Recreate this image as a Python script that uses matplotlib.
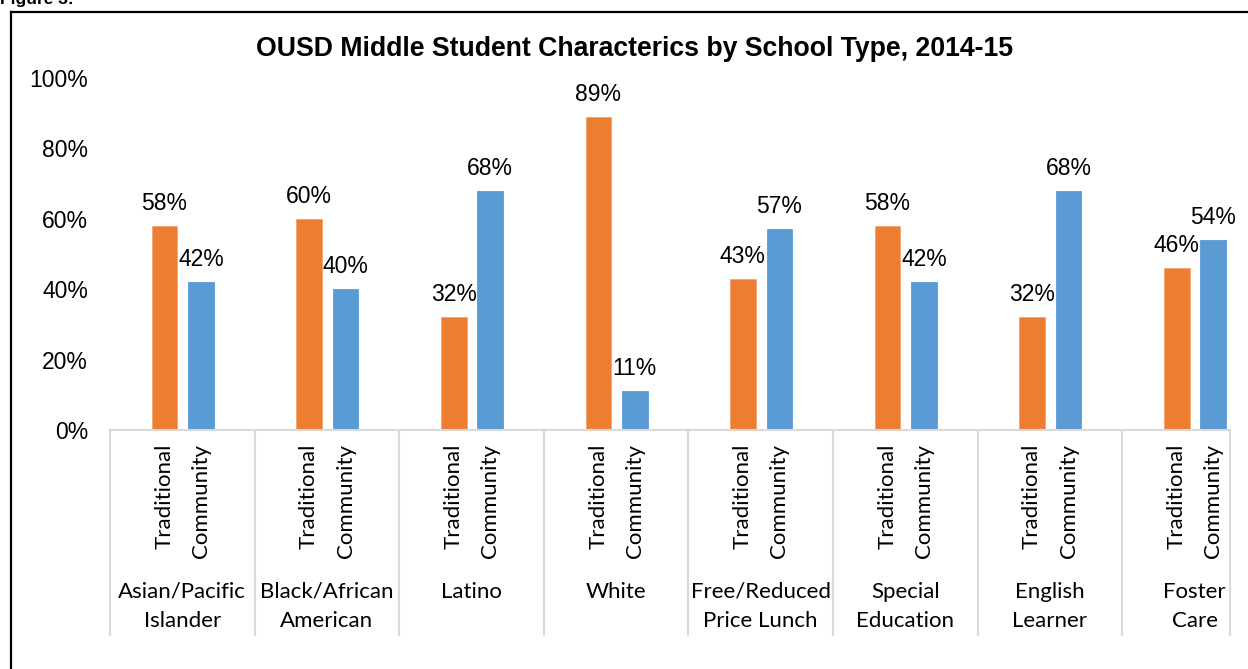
import matplotlib
matplotlib.use('Agg')
import matplotlib.pyplot as plt
import matplotlib.transforms as mtransforms
import numpy as np

# Share of middle school students by school type, 2014-15
groups = ['Asian/Pacific\nIslander', 'Black/African\nAmerican', 'Latino', 'White',
          'Free/Reduced\nPrice Lunch', 'Special\nEducation', 'English\nLearner', 'Foster\nCare']
school_types = ['Traditional', 'Community']
traditional = [58, 60, 32, 89, 43, 58, 32, 46]
community = [42, 40, 68, 11, 57, 42, 68, 54]
yticks = [0, 20, 40, 60, 80, 100]

ORANGE = '#ED7D31'
BLUE = '#5B9BD5'
GRID = '#D9D9D9'
W, H = 1248, 669

fig = plt.figure(figsize=(W / 100, H / 100), dpi=100)
ax = fig.add_axes([110 / W, 239 / H, 1120 / W, 352 / H])

# frame around the figure (top and left edges only are in view)
fig.add_artist(plt.Line2D([11 / W, 1], [1 - 12 / H, 1 - 12 / H], transform=fig.transFigure,
                          color='black', lw=1.6))
fig.add_artist(plt.Line2D([11 / W, 11 / W], [0, 1 - 12 / H], transform=fig.transFigure,
                          color='black', lw=1.6))
fig.text(0, 1 - 4 / H, 'Figure 3:', fontsize=12.5, fontweight='bold', family='Liberation Sans',
         ha='left', va='baseline')

x = np.arange(len(groups))
off_t, off_c, bw = 0.377, 0.629, 0.177
ax.bar(x + off_t, traditional, bw, color=ORANGE, edgecolor='#F4A46E', lw=0.6)
ax.bar(x + off_c, community, bw, color=BLUE, edgecolor=BLUE, lw=0.6)

x_end = 1120 / 144.6
ax.set_xlim(0, x_end)
ax.set_ylim(0, 100)
ax.set_yticks(yticks)
ax.set_yticklabels([f'{v}%' for v in yticks], family='Liberation Sans', fontsize=16.5)
ax.tick_params(axis='y', length=0, pad=15.8)
ax.set_xticks([])
for s in ax.spines.values():
    s.set_visible(False)
ax.axhline(0, color=GRID, lw=1.5, clip_on=False)

# value labels above the bars
for xs, vals in ((x + off_t, traditional), (x + off_c, community)):
    for xi, v in zip(xs, vals):
        ax.annotate(f'{v}%', (xi, v), xytext=(0, 11.5), textcoords='offset points',
                    ha='center', va='baseline', fontsize=16.5, family='Liberation Sans',
                    annotation_clip=False)

# two-level category axis
tr = mtransforms.blended_transform_factory(ax.transData, ax.transAxes)
for xv in list(range(len(groups))) + [x_end]:
    ax.plot([xv, xv], [0, -0.582], transform=tr, color=GRID, lw=1.5, clip_on=False)
for i, g in enumerate(groups):
    for xo, name in zip((off_t, off_c), school_types):
        ax.text(i + xo, -0.04, name, transform=tr, rotation=90, ha='center', va='top',
                fontsize=16, family='Lato')
    for j, line in enumerate(g.split('\n')):
        ax.text(i + 0.5, (430 - 598 - 29 * j) / 352, line, transform=tr, ha='center',
                va='baseline', fontsize=16, family='Lato')

fig.text(635 / W, 1 - 56 / H, 'OUSD Middle Student Characterics by School Type, 2014-15',
         ha='center', va='baseline', fontsize=19.2, fontweight='bold', family='Liberation Sans')

fig.savefig('out.png', dpi=100)
